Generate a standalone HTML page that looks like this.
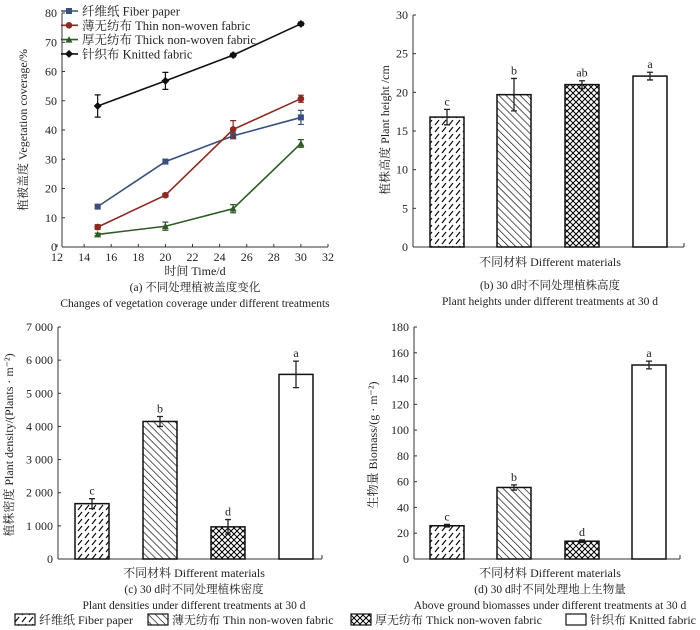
<!DOCTYPE html>
<html><head><meta charset="utf-8"><style>
html,body{margin:0;padding:0;background:#fff;}
svg{display:block;font-family:"Liberation Serif","Noto Serif CJK SC",serif;}
</style></head><body>
<svg id="fig" width="700" height="630" viewBox="0 0 700 630" xmlns="http://www.w3.org/2000/svg">
<defs>
<pattern id="pFiber" patternUnits="userSpaceOnUse" width="7" height="7">
<line x1="1" y1="6" x2="5" y2="1" stroke="#000" stroke-width="1.1"/></pattern>
<pattern id="pThin" patternUnits="userSpaceOnUse" width="5" height="5" patternTransform="rotate(-45)">
<line x1="0" y1="0" x2="0" y2="5" stroke="#000" stroke-width="1.3"/></pattern>
<pattern id="pThick" patternUnits="userSpaceOnUse" width="6" height="6">
<path d="M0,0 L6,6 M6,0 L0,6" stroke="#000" stroke-width="1"/></pattern>
</defs>
</svg>
<script>
const NS='http://www.w3.org/2000/svg';
const svg=document.getElementById('fig');
// ---- panel (a) data ----
const aDays=[15,20,25,30];
const aNames=['纤维纸 Fiber paper','薄无纺布 Thin non-woven fabric','厚无纺布 Thick non-woven fabric','针织布 Knitted fabric'];
const aFiber=[13.8,29.2,38.0,44.3];
const aFiberErr=[0.5,0.8,1.0,2.4];
const aThin=[6.8,17.7,40.2,50.7];
const aThinErr=[0.8,0.6,3.0,1.2];
const aThick=[4.3,7.1,13.1,35.4];
const aThickErr=[0.4,1.4,1.4,1.3];
const aKnit=[48.2,56.8,65.6,76.3];
const aKnitErr=[3.8,2.9,0.6,0.6];
const aXTicks=[12,14,16,18,20,22,24,26,28,30,32];
const aYTicks=[0,10,20,30,40,50,60,70,80];
// ---- bar panels data ----
const bVals=[16.8,19.7,21.0,22.1];
const bErr=[1.0,2.1,0.5,0.5];
const bLetters=['c','b','ab','a'];
const bTicks=[0,5,10,15,20,25,30];
const cVals=[1670,4150,970,5570];
const cErr=[150,150,220,400];
const cLetters=['c','b','d','a'];
const cTicks=[0,1000,2000,3000,4000,5000,6000,7000];
const cTickLabels=['0','1 000','2 000','3 000','4 000','5 000','6 000','7 000'];
const dVals=[25.8,55.5,13.8,150.5];
const dErr=[1.0,2.0,1.0,3.0];
const dLetters=['c','b','d','a'];
const dTicks=[0,20,40,60,80,100,120,140,160,180];

function el(tag,attrs,parent){const e=document.createElementNS(NS,tag);for(const k in attrs)e.setAttribute(k,attrs[k]);(parent||svg).appendChild(e);return e;}
function txt(x,y,s,size,anchor,parent,extra){const t=el('text',Object.assign({x:x,y:y,'font-size':size,'text-anchor':anchor||'middle',fill:'#222'},extra||{}),parent);t.textContent=s;return t;}

// ===== Panel (a) =====
const gA=el('g',{});


const axL=62,axB=247,axT=13,x0=57,xs=13.55;
const ax=v=>x0+(v-12)*xs, ay=v=>axB-(v/80)*(axB-axT);
el('line',{x1:axL,y1:axT,x2:axL,y2:axB,stroke:'#333'},gA);
el('line',{x1:axL,y1:axB,x2:ax(32),y2:axB,stroke:'#333'},gA);
aYTicks.forEach(v=>{el('line',{x1:axL,y1:ay(v),x2:axL+3,y2:ay(v),stroke:'#333'},gA);txt(axL-5,ay(v)+4,String(v),12,'end',gA);});
aXTicks.forEach(v=>{el('line',{x1:ax(v),y1:axB,x2:ax(v),y2:axB-3,stroke:'#333'},gA);txt(ax(v),axB+14,String(v),12,'middle',gA);});
const ylab=txt(0,0,'植被盖度 Vegetation coverage/%',12,'middle',gA,{transform:'translate(27,130) rotate(-90)'});

const xlab=txt(195,275,'时间 Time/d',12,'middle',gA);

txt(195,291,'(a) 不同处理植被盖度变化',11.5,'middle',gA);
txt(195,307,'Changes of vegetation coverage under different treatments',11.5,'middle',gA);
const series=[[aFiber,aFiberErr,'#3a4f7e','square'],[aThin,aThinErr,'#8b2a22','circle'],[aThick,aThickErr,'#2f5a25','triangle'],[aKnit,aKnitErr,'#111','diamond']];
function marker(x,y,shape,col,g){
 if(shape==='square')return el('rect',{x:x-3,y:y-3,width:6,height:6,fill:col},g);
 if(shape==='circle')return el('circle',{cx:x,cy:y,r:3.3,fill:col},g);
 if(shape==='triangle')return el('path',{d:`M${x},${y-3.5}L${x+3.5},${y+3}L${x-3.5},${y+3}Z`,fill:col},g);
 return el('path',{d:`M${x},${y-4}L${x+4},${y}L${x},${y+4}L${x-4},${y}Z`,fill:col},g);
}
series.forEach((s,i)=>{
 const g=el('g',{},gA);
 
 
 el('polyline',{points:aDays.map((d,j)=>ax(d)+','+ay(s[0][j])).join(' '),fill:'none',stroke:s[2],'stroke-width':1.6},g);
 aDays.forEach((d,j)=>{
  const x=ax(d),y1=ay(s[0][j]+s[1][j]),y2=ay(s[0][j]-s[1][j]);
  el('path',{d:`M${x},${y1}V${y2}M${x-3},${y1}H${x+3}M${x-3},${y2}H${x+3}`,stroke:s[2],'stroke-width':1.2,fill:'none'},g);
  const m=marker(x,ay(s[0][j]),s[3],s[2],g);
  
  
 });
 const lg=el('g',{},gA);
 
 
 const ly=11+i*14.3;
 el('line',{x1:61,y1:ly,x2:78,y2:ly,stroke:s[2],'stroke-width':1.6},lg);
 marker(69,ly,s[3],s[2],lg);
 txt(82,ly+4.5,aNames[i],12.5,'start',lg);
});

// ===== Bar panels =====
const fills=['url(#pFiber)','url(#pThin)','url(#pThick)','#fff'];
function barPanel(name,L,R,T,B,vals,errs,letters,ticks,labels,max,yTitle,ytx,ytyc,cx,c1,c2,c1y,xTitleY,barX,bw){
 const g=el('g',{});
 
 
 const y=v=>B-(v/max)*(B-T);
 el('line',{x1:L,y1:T,x2:L,y2:B,stroke:'#333'},g);
 el('line',{x1:L,y1:B,x2:R,y2:B,stroke:'#333'},g);
 el('line',{x1:R,y1:B,x2:R,y2:B-4,stroke:'#333'},g);
 ticks.forEach((v,i)=>{el('line',{x1:L,y1:y(v),x2:L+3,y2:y(v),stroke:'#333'},g);txt(L-5,y(v)+4,labels?labels[i]:String(v),12,'end',g);});
 vals.forEach((v,i)=>{
  const bx=barX[i];
  const r=el('rect',{x:bx,y:y(v),width:bw,height:B-y(v),fill:fills[i],stroke:'#111','stroke-width':1.5},g);
  
  
  const x=bx+bw/2,y1=y(v+errs[i]),y2=y(v-errs[i]);
  el('path',{d:`M${x},${y1}V${y2}M${x-3},${y1}H${x+3}M${x-3},${y2}H${x+3}`,stroke:'#222','stroke-width':1.3,fill:'none'},g);
  txt(x,y1-4,letters[i],12,'middle',g);
 });
 const yt=txt(0,0,yTitle,12,'middle',g,{transform:`translate(${ytx},${ytyc}) rotate(-90)`});
 
 const xt=txt(cx,xTitleY,'不同材料 Different materials',12,'middle',g);
 
 txt(cx,c1y,c1,11.5,'middle',g);
 txt(cx,c1y+16,c2,11.5,'middle',g);
}
barPanel('panel-b-plant-height',413,684,15,247,bVals,bErr,bLetters,bTicks,null,30,'植株高度 Plant height /cm',389,130,550,'(b) 30 d时不同处理植株高度','Plant heights under different treatments at 30 d',289,266,[430,497,565,633],34);
barPanel('panel-c-plant-density',58,322,327,559,cVals,cErr,cLetters,cTicks,cTickLabels,7000,'植株密度 Plant density/(Plants · m⁻²)',13,445,194,'(c) 30 d时不同处理植株密度','Plant densities under different treatments at 30 d',593,577,[75,143,211,279],34);
barPanel('panel-d-biomass',414,680,327,559,dVals,dErr,dLetters,dTicks,null,180,'生物量 Biomass/(g · m⁻²)',377,445,550,'(d) 30 d时不同处理地上生物量','Above ground biomasses under different treatments at 30 d',593,577,[430,497,565,632],34);

// ===== Bottom legend =====
const leg=el('g',{});


const legNames=['纤维纸 Fiber paper','薄无纺布 Thin non-woven fabric','厚无纺布 Thick non-woven fabric','针织布 Knitted fabric'];
const legX=[15,148,351,566];
legNames.forEach((n,i)=>{
 const e=el('g',{},leg);
 
 
 el('rect',{x:legX[i],y:614,width:20,height:11,fill:fills[i],stroke:'#111','stroke-width':1.2},e);
 txt(legX[i]+24,624,n,12,'start',e);
});
</script>
</body></html>
